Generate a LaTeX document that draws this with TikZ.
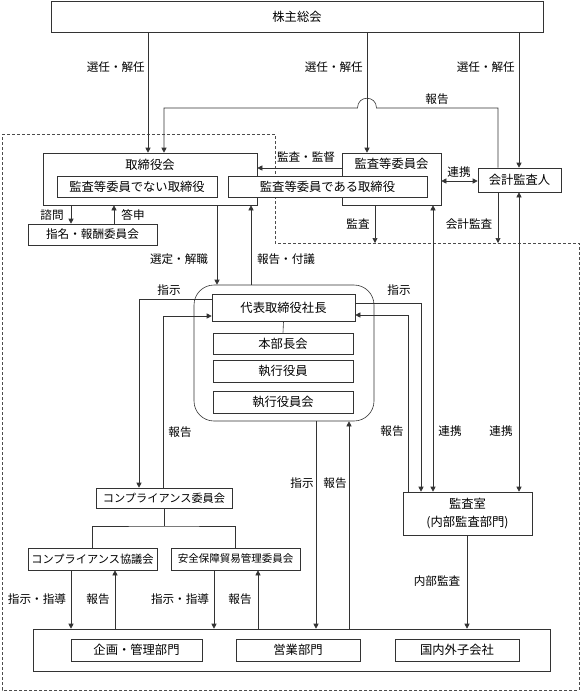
\documentclass[tikz,border=0pt]{standalone}
\usepackage{fontspec}
\setmainfont{Noto Sans CJK JP}
\usetikzlibrary{arrows.meta}
\newcommand\bxfont{\fontsize{12.3}{14}\selectfont}
\newcommand\lbfont{\fontsize{11.6}{13}\selectfont}
\newcommand\cmfont{\fontsize{11.2}{13}\selectfont}
\newcommand\scfont{\fontsize{10.5}{12}\selectfont}
\tikzset{
 lc/.style={draw=black!80, line width=0.6pt},
 bx/.style={lc, fill=white, inner sep=0pt, font=\bxfont},
 lb/.style={inner sep=0pt, font=\lbfont},
 arr/.style={lc, -{Triangle[length=5pt,width=5pt]}},
 darr/.style={lc, {Triangle[length=5pt,width=5pt]}-{Triangle[length=5pt,width=5pt]}},
 bnd/.style={draw=black!70, line width=0.6pt, dash pattern=on 3pt off 2pt},
}
\begin{document}
\begin{tikzpicture}[x=1pt,y=-1pt]
\useasboundingbox (0,0) rectangle (580,691);
% dashed boundary
\coordinate (d1) at (2,134);
\coordinate (d2) at (275,134);
\coordinate (d3) at (275,243);
\coordinate (d4) at (579,243);
\coordinate (d5) at (579,690);
\coordinate (d6) at (2,690);
\draw[bnd] (d1) -- (d2) -- (d3) -- (d4) -- (d5) -- (d6) -- cycle;

% boxes
\node[bx, minimum width=492pt, minimum height=31pt] (agm) at (297,16.5) {株主総会};
\node[bx, minimum width=214pt, minimum height=52pt] (board) at (150,179) {};
\node[lb, font=\bxfont] (boardt) at (150,165) {取締役会};
\node[bx, minimum width=99pt, minimum height=52pt] (acom) at (391.5,179) {};
\node[lb, font=\bxfont] (acomt) at (391.5,164) {監査等委員会};
\node[bx, minimum width=160pt, minimum height=21pt] (nonaudit) at (137,186.5) {監査等委員でない取締役};
\node[bx, minimum width=199pt, minimum height=21pt] (auditdir) at (327.5,186.5) {監査等委員である取締役};
\node[bx, minimum width=83pt, minimum height=24pt] (auditor) at (519.5,180) {会計監査人};
\node[bx, minimum width=129pt, minimum height=21pt, font=\lbfont] (nomc) at (92.5,234.5) {指名・報酬委員会};

\node[lc, rounded corners=20pt, minimum width=180pt, minimum height=136pt, inner sep=0pt] (exec) at (284,353) {};
\node[bx, minimum width=143pt, minimum height=27pt] (pres) at (283.5,307.5) {代表取締役社長};
\node[bx, minimum width=140pt, minimum height=21pt] (hq) at (283,343.5) {本部長会};
\node[bx, minimum width=140pt, minimum height=22pt] (eo) at (283,371) {執行役員};
\node[bx, minimum width=140pt, minimum height=22pt] (eom) at (283,402) {執行役員会};

\node[bx, minimum width=136pt, minimum height=20pt, font=\cmfont] (comp) at (164,498) {コンプライアンス委員会};
\node[bx, minimum width=129pt, minimum height=22pt, font=\cmfont] (cc) at (92.5,559) {コンプライアンス協議会};
\node[bx, minimum width=129pt, minimum height=22pt, font=\scfont] (sec) at (235.5,559) {安全保障貿易管理委員会};
\node[bx, minimum width=129pt, minimum height=43pt, align=center] (iad) at (467.5,513.5) {監査室\\[4pt](内部監査部門)};

\node[bx, minimum width=517pt, minimum height=42pt] (ops) at (291.5,650) {};
\node[bx, minimum width=131pt, minimum height=22pt] (plan) at (136.5,650) {企画・管理部門};
\node[bx, minimum width=124pt, minimum height=22pt] (sales) at (298,650) {営業部門};
\node[bx, minimum width=124pt, minimum height=22pt] (subs) at (457,650) {国内外子会社};

% connectors from AGM
\draw[arr] (148,0 |- agm.south) -- (148,0 |- board.north);
\draw[arr] (367,0 |- agm.south) -- (367,0 |- acom.north);
\draw[arr] (519,0 |- agm.south) -- (519,0 |- auditor.north);
\node[lb, anchor=east] (l1) at (145,67) {選任・解任};
\node[lb, anchor=east] (l2) at (363,67) {選任・解任};
\node[lb, anchor=east] (l3) at (515,67) {選任・解任};

% report from auditor to board with hop
\draw[arr] (498,0 |- auditor.north) -- (498,108) -- (376.5,108)
  .. controls (376.5,95) and (357.5,95) .. (357.5,108) -- (164,108) -- (164,0 |- board.north);
\node[lb] (l4) at (437,99) {報告};

% audit / supervise
\draw[arr] (acom.west |- 0,168) -- (board.east |- 0,168);
\node[lb] (l5) at (306,157) {監査・監督};
\draw[darr] (acom.east |- 0,181) -- (auditor.west |- 0,181);
\node[lb] (l6) at (459,172) {連携};

% nomination committee
\draw[arr] (71,0 |- board.south) -- (71,0 |- nomc.north);
\draw[arr] (114,0 |- nomc.north) -- (114,0 |- board.south);
\node[lb] (l7) at (52,215) {諮問};
\node[lb] (l8) at (133,215) {答申};

% board <-> exec
\draw[arr] (217,0 |- board.south) -- (217,0 |- exec.north);
\draw[arr] (251,0 |- exec.north) -- (251,0 |- board.south);
\node[lb] (l9) at (179,259) {選定・解職};
\node[lb] (l10) at (286,259) {報告・付議};

% audits into dashed region
\coordinate (e1) at (375,243);
\coordinate (e2) at (498,243);
\draw[arr] (375,0 |- acom.south) -- (e1);
\draw[arr] (498,0 |- auditor.south) -- (e2);
\node[lb] (l11) at (358,224) {監査};
\node[lb] (l12) at (469,224) {会計監査};

% internal audit office
\draw[darr] (433,0 |- acom.south) -- (433,0 |- iad.north);
\draw[darr] (519,0 |- auditor.south) -- (519,0 |- iad.north);
\node[lb] (l13) at (450,431) {連携};
\node[lb] (l14) at (501,431) {連携};
\draw[arr] (pres.east |- 0,303) -- (421,303) -- (421,0 |- iad.north);
\draw[arr] (408,0 |- iad.north) -- (408,315) -- (pres.east |- 0,315);
\node[lb] (l15) at (399,290) {指示};
\node[lb] (l16) at (392,431) {報告};

% compliance
\draw[arr] (pres.west |- 0,299) -- (139,299) -- (139,0 |- comp.north);
\draw[arr] (163,0 |- comp.north) -- (163,316) -- (pres.west |- 0,316);
\node[lb] (l17) at (169,290) {指示};
\node[lb] (l18) at (180,432) {報告};
\draw[lc] (pres.south) -- (hq.north);

\coordinate (j) at (164,526);
\draw[lc] (comp.south) -- (j);
\draw[lc] (cc.north) |- (j) -| (sec.north);

% exec <-> sales
\draw[arr] (316,0 |- exec.south) -- (316,0 |- ops.north);
\draw[arr] (349,0 |- ops.north) -- (349,0 |- exec.south);
\node[lb] (l19) at (302,483) {指示};
\node[lb] (l20) at (335,483) {報告};

% internal audit
\draw[arr] (467,0 |- iad.south) -- (467,0 |- ops.north);
\node[lb] (l21) at (437,581) {内部監査};

% bottom committees
\draw[arr] (71,0 |- cc.south) -- (71,0 |- ops.north);
\draw[arr] (115,0 |- ops.north) -- (115,0 |- cc.south);
\draw[arr] (214,0 |- sec.south) -- (214,0 |- ops.north);
\draw[arr] (258,0 |- ops.north) -- (258,0 |- sec.south);
\node[lb] (l22) at (37,599) {指示・指導};
\node[lb] (l23) at (98,599) {報告};
\node[lb] (l24) at (180,599) {指示・指導};
\node[lb] (l25) at (240,599) {報告};
\end{tikzpicture}
\end{document}
